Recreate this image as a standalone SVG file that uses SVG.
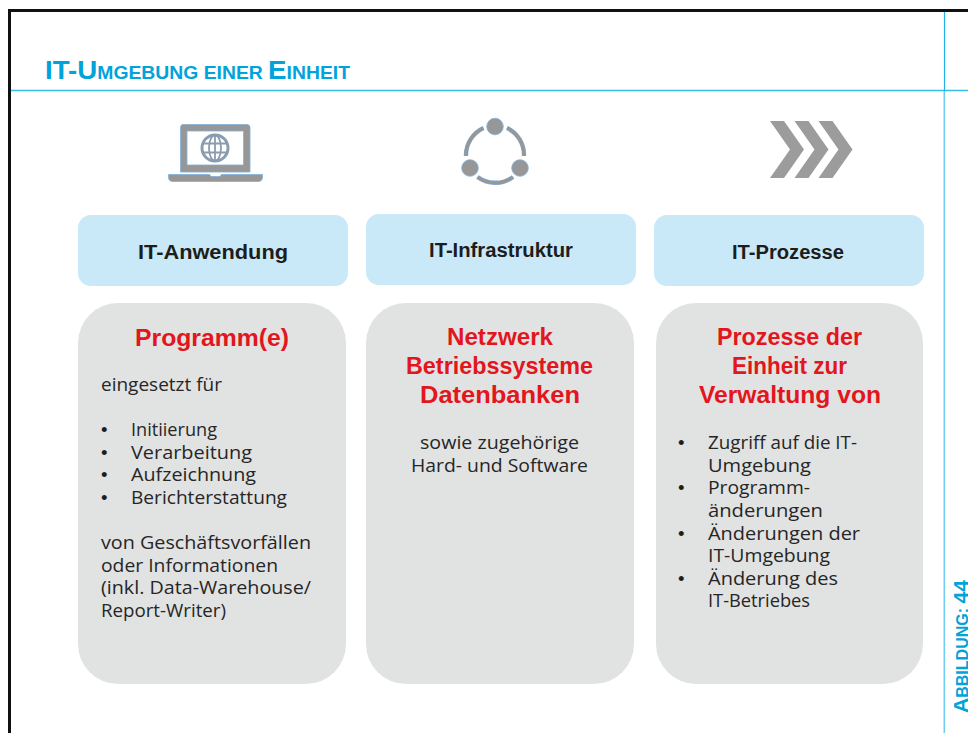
<svg xmlns="http://www.w3.org/2000/svg" width="968" height="733" viewBox="0 0 968 733">
<style>
text{font-family:"Liberation Sans",Arial,sans-serif;lengthAdjust:spacingAndGlyphs}
.title{font-weight:700;fill:#00a3da}
.hd{font-size:20px;font-weight:700;fill:#1d1d1b;text-anchor:middle}
.rd{font-size:24px;font-weight:700;fill:#e2161c;text-anchor:middle}
.bd{font-size:18.5px;fill:#262626;font-family:"Open Sans","Liberation Sans",sans-serif}
.bu{font-size:18.5px;fill:#1d1d1b}
.mid{text-anchor:middle}
.blue{fill:#c9e9f8}
.grey{fill:#e1e2e2}
.ic{fill:#979797;stroke:#7fb0dc;stroke-width:.8}
.arc{fill:none;stroke:#979797;stroke-width:3.4}
.arcb{fill:none;stroke:#7fb0dc;stroke-width:4.4}
</style>
<rect width="968" height="733" fill="#fff"/>
<g id="frame">
<path d="M968 10.500H9.500V733" fill="none" stroke="#111" stroke-width="3"/>
<path d="M11 90.500H968" stroke="#36bdea" stroke-width="1.500"/>
<path d="M944.500 12V91" stroke="#1fb2e6" stroke-width="1.200"/>
<path d="M944.300 91V733" stroke="#6fcdf0" stroke-width="1.600"/>
</g>
<text id="title" class="title" x="45" y="79" font-size="26.500" textLength="305" lengthAdjust="spacingAndGlyphs">IT-U<tspan font-size="18.500">MGEBUNG EINER </tspan>E<tspan font-size="18.500">INHEIT</tspan></text>
<g id="icon-laptop">
<path class="ic" fill-rule="evenodd" d="M183 124.500H247Q250 124.500 250 127.500V172H180.500V127.500Q180.500 124.500 183 124.500ZM187 131V165H243.500V131Z"/>
<path class="ic" d="M168.500 174.500H209.500L211 176.500H220L221.500 174.500H262.500V177Q262.500 181.500 258 181.500H173Q168.500 181.500 168.500 177Z"/>
<circle cx="215" cy="148" r="13" fill="none" stroke="#8a9cb0" stroke-width="3"/>
<ellipse cx="215" cy="148" rx="6" ry="13" fill="none" stroke="#8a9cb0" stroke-width="1.800"/>
<path d="M215 135V161M202.500 143.500H227.500M202.500 152.500H227.500" stroke="#8a9cb0" stroke-width="1.800" fill="none"/>
</g>
<g id="icon-network">
<circle class="ic" cx="495" cy="126.500" r="8.300"/>
<circle class="ic" cx="470" cy="168" r="8.300"/>
<circle class="ic" cx="520" cy="168" r="8.300"/>
<path class="arcb" d="M483.500 128A30 30 0 0 0 466 156M507 128A30 30 0 0 1 524 156M477.500 177A30 30 0 0 0 513 177"/>
<path class="arc" d="M483.500 128A30 30 0 0 0 466 156M507 128A30 30 0 0 1 524 156M477.500 177A30 30 0 0 0 513 177"/>
</g>
<g id="icon-chevrons" fill="#9b9c9b">
<path d="M770 121H784L804 149.500L784 178H770L790 149.500Z"/>
<path d="M794.500 121H808.500L828.500 149.500L808.500 178H794.500L814.500 149.500Z"/>
<path d="M818.500 121H832.500L852.500 149.500L832.500 178H818.500L838.500 149.500Z"/>
</g>
<g id="head-1"><rect class="blue" x="78" y="215" width="270" height="71" rx="13"/><text class="hd" x="213" y="259" textLength="150" lengthAdjust="spacingAndGlyphs">IT-Anwendung</text></g>
<g id="head-2"><rect class="blue" x="366" y="214" width="270" height="71" rx="13"/><text class="hd" x="501" y="257" textLength="144" lengthAdjust="spacingAndGlyphs">IT-Infrastruktur</text></g>
<g id="head-3"><rect class="blue" x="654" y="215" width="270" height="71" rx="13"/><text class="hd" x="788" y="259" textLength="112" lengthAdjust="spacingAndGlyphs">IT-Prozesse</text></g>
<g id="card-1">
<rect class="grey" x="78" y="303" width="268" height="381" rx="40"/>
<text class="rd" x="212" y="346" textLength="154" lengthAdjust="spacingAndGlyphs">Programm(e)</text>
<text class="bd" x="101" y="391" textLength="121" lengthAdjust="spacingAndGlyphs">eingesetzt für</text>
<text class="bu" x="101" y="436">•</text><text class="bd" x="131" y="436" textLength="86" lengthAdjust="spacingAndGlyphs">Initiierung</text>
<text class="bu" x="101" y="459">•</text><text class="bd" x="131" y="459" textLength="121" lengthAdjust="spacingAndGlyphs">Verarbeitung</text>
<text class="bu" x="101" y="481">•</text><text class="bd" x="131" y="481" textLength="125" lengthAdjust="spacingAndGlyphs">Aufzeichnung</text>
<text class="bu" x="101" y="504">•</text><text class="bd" x="131" y="504" textLength="156" lengthAdjust="spacingAndGlyphs">Berichterstattung</text>
<text class="bd" x="101" y="549" textLength="210" lengthAdjust="spacingAndGlyphs">von Geschäftsvorfällen</text>
<text class="bd" x="101" y="572" textLength="177" lengthAdjust="spacingAndGlyphs">oder Informationen</text>
<text class="bd" x="101" y="594" textLength="210" lengthAdjust="spacingAndGlyphs">(inkl. Data-Warehouse/</text>
<text class="bd" x="101" y="617" textLength="125" lengthAdjust="spacingAndGlyphs">Report-Writer)</text>
</g>
<g id="card-2">
<rect class="grey" x="366" y="303" width="268" height="381" rx="40"/>
<text class="rd" x="500" y="345" textLength="106" lengthAdjust="spacingAndGlyphs">Netzwerk</text>
<text class="rd" x="499.500" y="374" textLength="187" lengthAdjust="spacingAndGlyphs">Betriebssysteme</text>
<text class="rd" x="500" y="403" textLength="160" lengthAdjust="spacingAndGlyphs">Datenbanken</text>
<text class="bd mid" x="499.500" y="449" textLength="159" lengthAdjust="spacingAndGlyphs">sowie zugehörige</text>
<text class="bd mid" x="499.500" y="472" textLength="177" lengthAdjust="spacingAndGlyphs">Hard- und Software</text>
</g>
<g id="card-3">
<rect class="grey" x="656" y="303" width="267" height="381" rx="40"/>
<text class="rd" x="789.500" y="345" textLength="145" lengthAdjust="spacingAndGlyphs">Prozesse der</text>
<text class="rd" x="789.500" y="374" textLength="115" lengthAdjust="spacingAndGlyphs">Einheit zur</text>
<text class="rd" x="790" y="403" textLength="182" lengthAdjust="spacingAndGlyphs">Verwaltung von</text>
<text class="bu" x="678" y="449">•</text><text class="bd" x="708" y="449" textLength="149" lengthAdjust="spacingAndGlyphs">Zugriff auf die IT-</text>
<text class="bd" x="708" y="472" textLength="103" lengthAdjust="spacingAndGlyphs">Umgebung</text>
<text class="bu" x="678" y="494">•</text><text class="bd" x="708" y="494" textLength="102" lengthAdjust="spacingAndGlyphs">Programm-</text>
<text class="bd" x="708" y="517" textLength="115" lengthAdjust="spacingAndGlyphs">änderungen</text>
<text class="bu" x="678" y="540">•</text><text class="bd" x="708" y="540" textLength="152" lengthAdjust="spacingAndGlyphs">Änderungen der</text>
<text class="bd" x="708" y="562" textLength="122" lengthAdjust="spacingAndGlyphs">IT-Umgebung</text>
<text class="bu" x="678" y="585">•</text><text class="bd" x="708" y="585" textLength="130" lengthAdjust="spacingAndGlyphs">Änderung des</text>
<text class="bd" x="708" y="607" textLength="102" lengthAdjust="spacingAndGlyphs">IT-Betriebes</text>
</g>
<text id="caption" class="title" transform="translate(967.500 713) rotate(-90)" font-size="21" textLength="133" lengthAdjust="spacingAndGlyphs">A<tspan font-size="16">BBILDUNG: </tspan>44</text>
</svg>
